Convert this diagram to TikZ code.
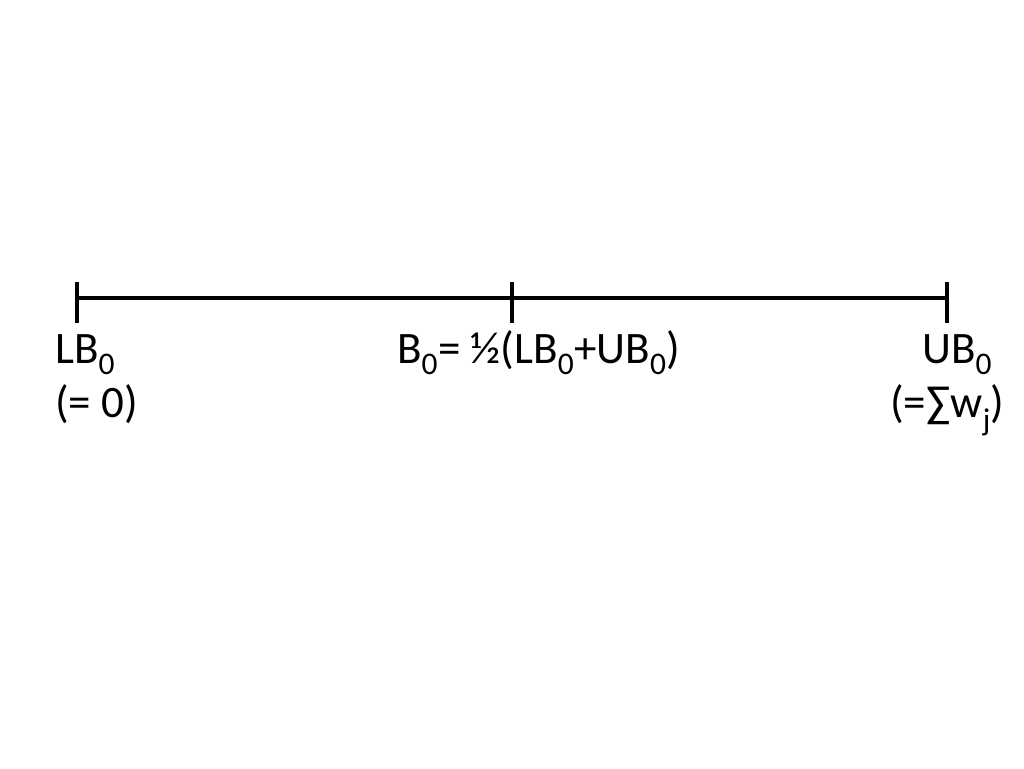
\documentclass[tikz,border=0pt]{standalone}
\usepackage{fontspec}
\setmainfont{Carlito}

\begin{document}
\begin{tikzpicture}[x=1pt,y=-1pt,
    bar/.style={line width=3.4pt},
    lbl/.style={inner sep=0pt,anchor=base west,font=\fontsize{45}{54}\selectfont}]
    \useasboundingbox (0,0) rectangle (1024,768);

    % Interval end points and midpoint
    \coordinate (LB) at (77,298);
    \coordinate (B) at (512,298);
    \coordinate (UB) at (947,298);
    \draw[bar] (LB) -- (UB);

    % Tick marks
    \foreach \p in {LB,B,UB}
        \draw[bar] ([yshift=16pt]\p) -- ([yshift=-25pt]\p);

    % Lower bound
    \node[lbl] (lbname) at (55,363) {LB\textsubscript{0}};
    \node[lbl] (lbval) at (55,417) {(= 0)};

    % Midpoint
    \node[lbl] (bname) at (397,363) {B\textsubscript{0}= ½(LB\textsubscript{0}+UB\textsubscript{0})};

    % Upper bound
    \node[lbl] (ubname) at (922,363) {UB\textsubscript{0}};
    \node[lbl] (ubval) at (890,417) {(=∑w\textsubscript{j})};
\end{tikzpicture}
\end{document}
